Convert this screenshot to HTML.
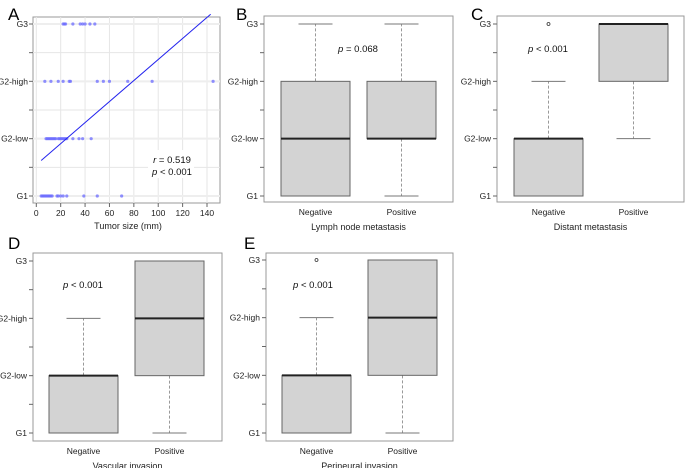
<!DOCTYPE html>
<html><head><meta charset="utf-8"><style>
body{margin:0;background:#fff;}
svg{display:block;font-family:"Liberation Sans",Arial,sans-serif;}
</style></head><body>
<svg id="fig" width="685" height="468" viewBox="0 0 685 468"></svg>
<script>
const gradeLabels=["G1","G2-low","G2-high","G3"];
const xTicks=[0,20,40,60,80,100,120,140];
const scatterG3=[22,23,24,30,36,38,40,44,48];
const scatterG2high=[7,12,18,22,27,28,50,55,60,75,95,145];
const scatterG2low=[8,9,10,11,12,13,14,15,16,18,19,20,21,22,23,24,25,30,35,38,45];
const scatterG1=[4,5,6,7,8,9,10,11,12,13,17,18,20,22,25,39,50,70];
const fitStart=[4,0.62];
const fitEnd=[143,3.17];
const boxCategories=["Negative","Positive"];
// [low, q1, median, q3, high]
const boxB=[[0,0,1,2,3],[0,1,1,2,3]];
const boxC=[[0,0,1,1,2],[1,2,3,3,3]];
const boxD=[[0,0,1,1,2],[0,1,2,3,3]];
const boxE=[[0,0,1,1,2],[0,1,2,3,3]];
const outC=[[3],[]];
const outE=[[3],[]];
const svg=document.getElementById('fig');
const NS="http://www.w3.org/2000/svg";
function el(tag,attrs,parent){const e=document.createElementNS(NS,tag);for(const k in attrs)e.setAttribute(k,attrs[k]);(parent||svg).appendChild(e);return e;}
function txt(s,x,y,opt,parent){const t=el('text',Object.assign({x:x,y:y,'font-size':9,fill:'#222'},opt||{}),parent);t.textContent=s;return t;}

// Panel A
(function(){
 const g=el('g',{});
 
 
 const L=33,R=220,T=17,B=203;
 const xs=v=>36.3+v*(170.7/140);
 const ys=v=>196-v*(172/3);
 const t=txt('A',8,20,{'font-size':17,fill:'#000'},g);
 
 el('rect',{x:L,y:T,width:R-L,height:B-T,fill:'#fff',stroke:'#999'},g);
 xTicks.forEach(v=>{el('line',{x1:xs(v),x2:xs(v),y1:T,y2:B,stroke:'#e6e6e6'},g);
  el('line',{x1:xs(v),x2:xs(v),y1:B,y2:B+4,stroke:'#666'},g);
  const tl=txt(String(v),xs(v),B+13,{'text-anchor':'middle','font-size':8.5},g);
  });
 for(let i=0;i<=6;i++){const v=i/2;el('line',{x1:L,x2:R,y1:ys(v),y2:ys(v),stroke:i%2?'#e6e6e6':'#eeeeee','stroke-width':i%2?1:2},g);
  el('line',{x1:L-4,x2:L,y1:ys(v),y2:ys(v),stroke:'#666'},g);}
 gradeLabels.forEach((s,i)=>{const tl=txt(s,L-5,ys(i)+3,{'text-anchor':'end','font-size':8.5},g);});
 [scatterG1,scatterG2low,scatterG2high,scatterG3].forEach((arr,gi)=>arr.forEach(v=>{
  const c=el('circle',{cx:xs(v),cy:ys(gi),r:1.6,fill:'#6b6bff','fill-opacity':0.75},g);
  }));
 const ln=el('line',{x1:xs(fitStart[0]),y1:ys(fitStart[1]),x2:xs(fitEnd[0]),y2:ys(fitEnd[1]),stroke:'#2323ee','stroke-width':1},g);
 
 el('rect',{x:148,y:150,width:46,height:28,fill:'#fff'},g);
 const r1=el('text',{x:172,y:163,'text-anchor':'middle','font-size':9.5,fill:'#111'},g);
 r1.innerHTML='<tspan font-style="italic">r</tspan> = 0.519';
 
 const p1=el('text',{x:172,y:175,'text-anchor':'middle','font-size':9.5,fill:'#111'},g);
 p1.innerHTML='<tspan font-style="italic">p</tspan> &lt; 0.001';
 
 const xt=txt('Tumor size (mm)',128,229,{'text-anchor':'middle','font-size':9},g);
 
})();

function boxPanel(cfg){
 const g=el('g',{});
 
 
 const ys=v=>cfg.g1-v*(cfg.g1-cfg.g3)/3;
 const lt=txt(cfg.letter,cfg.lx,cfg.ly,{'font-size':17,fill:'#000'},g);
 
 el('rect',{x:cfg.L,y:cfg.T,width:cfg.R-cfg.L,height:cfg.B-cfg.T,fill:'#fff',stroke:'#999'},g);
 for(let i=0;i<=6;i++){const v=i/2;el('line',{x1:cfg.L-4,x2:cfg.L,y1:ys(v),y2:ys(v),stroke:'#666'},g);}
 gradeLabels.forEach((s,i)=>{const tl=txt(s,cfg.L-6,ys(i)+3,{'text-anchor':'end','font-size':8.5},g);});
 cfg.data.forEach((d,i)=>{
  const x0=cfg.boxX[i],w=69,cx=x0+w/2;
  el('line',{x1:cx,x2:cx,y1:ys(d[3]),y2:ys(d[4]),stroke:'#999','stroke-dasharray':'3,2'},g);
  el('line',{x1:cx,x2:cx,y1:ys(d[1]),y2:ys(d[0]),stroke:'#999','stroke-dasharray':'3,2'},g);
  el('line',{x1:cx-17,x2:cx+17,y1:ys(d[4]),y2:ys(d[4]),stroke:'#777'},g);
  el('line',{x1:cx-17,x2:cx+17,y1:ys(d[0]),y2:ys(d[0]),stroke:'#777'},g);
  const bx=el('rect',{x:x0,y:ys(d[3]),width:w,height:Math.max(ys(d[1])-ys(d[3]),0.5),fill:'#d3d3d3',stroke:'#666'},g);
  
  el('line',{x1:x0,x2:x0+w,y1:ys(d[2]),y2:ys(d[2]),stroke:'#222','stroke-width':2},g);
  (cfg.out?cfg.out[i]:[]).forEach(o=>{const c=el('circle',{cx:cx,cy:ys(o),r:1.5,fill:'none',stroke:'#333','stroke-width':0.8},g);});
  const cl=txt(boxCategories[i],cx,cfg.B+13,{'text-anchor':'middle','font-size':8.5},g);
  
 });
 const p=el('text',{x:cfg.px,y:cfg.py,'text-anchor':'middle','font-size':9.5,fill:'#111'},g);
 p.innerHTML='<tspan font-style="italic">p</tspan> '+cfg.ptext;
 
 const xt=txt(cfg.title,(cfg.L+cfg.R)/2,cfg.B+28,{'text-anchor':'middle','font-size':9},g);
 
}
boxPanel({name:'panel-b-boxplot',letter:'B',lx:236,ly:20,L:264,R:453,T:16,B:202,g3:24,g1:196,boxX:[281,367],data:boxB,px:358,py:52,ptext:'= 0.068',title:'Lymph node metastasis'});
boxPanel({name:'panel-c-boxplot',letter:'C',lx:471,ly:20,L:497,R:684,T:16,B:202,g3:24,g1:196,boxX:[514,599],data:boxC,out:outC,px:548,py:52,ptext:'&lt; 0.001',title:'Distant metastasis'});
boxPanel({name:'panel-d-boxplot',letter:'D',lx:8,ly:249,L:33,R:222,T:253,B:441,g3:261,g1:433,boxX:[49,135],data:boxD,px:83,py:288,ptext:'&lt; 0.001',title:'Vascular invasion'});
boxPanel({name:'panel-e-boxplot',letter:'E',lx:244,ly:249,L:266,R:453,T:253,B:441,g3:260,g1:433,boxX:[282,368],data:boxE,out:outE,px:313,py:288,ptext:'&lt; 0.001',title:'Perineural invasion'});
</script>
</body></html>
